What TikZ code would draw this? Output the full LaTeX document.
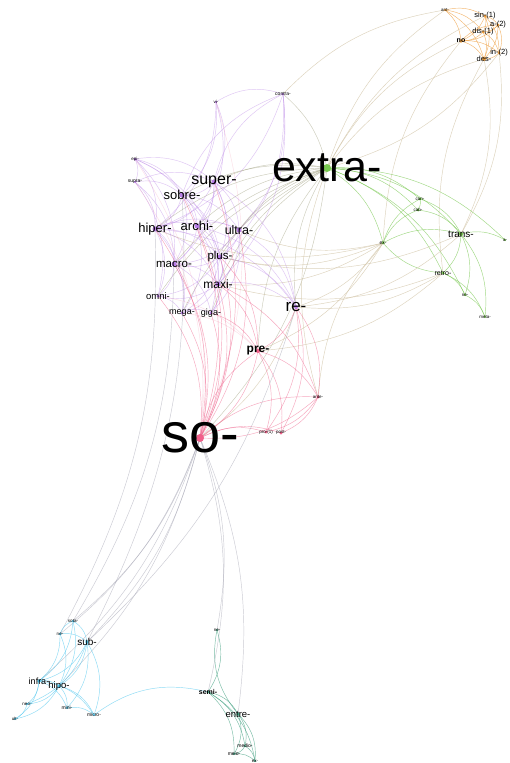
\documentclass[tikz,border=0pt]{standalone}
\usepackage{fontspec}
\setmainfont{Liberation Sans}
\usetikzlibrary{backgrounds}
\definecolor{cOr}{HTML}{F0A040}
\definecolor{cPu}{HTML}{B77EE6}
\definecolor{cGr}{HTML}{78C850}
\definecolor{cPk}{HTML}{F0608A}
\definecolor{cBl}{HTML}{4FC8F0}
\definecolor{cTl}{HTML}{40A080}
\definecolor{cOl}{HTML}{8E8E66}
\definecolor{cTn}{HTML}{CFC0A0}
\definecolor{cGy}{HTML}{A0A0B0}
\definecolor{cTx}{HTML}{000000}
\newcommand{\gnode}[7]{%
  \fill[#5] (#2,#3) circle (#6pt);
  \node[text=cTx,inner sep=0pt,font=\fontsize{#4}{#4}\selectfont] (#1) at (#2,#3) {#7};}
\tikzset{
  eb/.style={line width=0.45pt},
  oE/.style={eb,draw=cOr,opacity=0.75},
  gE/.style={eb,draw=cGr,opacity=0.7},
  xE/.style={eb,draw=cOl,opacity=0.45},
  tE/.style={eb,draw=cTn,opacity=0.7},
  pE/.style={eb,draw=cPu,opacity=0.45},
  rE/.style={eb,draw=cPk,opacity=0.55},
  lE/.style={eb,draw=cPk,opacity=0.2},
  sE/.style={eb,draw=cGy,opacity=0.55},
  bE/.style={eb,draw=cBl,opacity=0.65},
  kE/.style={eb,draw=cTl,opacity=0.7},
}
\begin{document}
\begin{tikzpicture}[x=1pt,y=-1pt]
\useasboundingbox (0,0) rectangle (509,763);
% orange cluster
\gnode{ant}{445}{10}{4.5}{cOr}{1.2}{ant-}
\gnode{sin}{485}{16}{7.5}{cOr}{1.5}{sin-(1)}
\gnode{aa}{498}{25}{7.5}{cOr}{1.5}{a-(2)}
\gnode{dis}{483}{32}{7.5}{cOr}{1.5}{dis-(1)}
\gnode{no}{461}{41}{7}{cOr}{1.8}{\textbf{no}}
\gnode{in}{499}{53}{7.5}{cOr}{1.5}{in-(2)}
\gnode{des}{484}{59}{7.5}{cOr}{2}{des-}
% purple cluster
\gnode{contra}{283}{94}{5}{cPu}{1.2}{contra-}
\gnode{vi}{216}{102}{4.5}{cPu}{1.2}{vi-}
\gnode{epi}{135}{159}{4.5}{cPu}{1.5}{epi-}
\gnode{supra}{135}{182}{5}{cPu}{1.2}{supra-}
\gnode{super}{214}{182}{16}{cPu}{2.5}{super-}
\gnode{sobre}{182}{195}{13}{cPu}{2.5}{sobre-}
\gnode{hiper}{155}{229}{13}{cPu}{2.5}{hiper-}
\gnode{archi}{197}{226}{13}{cPu}{2.5}{archi-}
\gnode{ultra}{239}{230}{12.5}{cPu}{2.5}{ultra-}
\gnode{plus}{220}{257}{11.5}{cPu}{2.5}{plus-}
\gnode{macro}{174}{264}{11.5}{cPu}{2.5}{macro-}
\gnode{maxi}{218}{284}{12}{cPu}{2.5}{maxi-}
\gnode{omni}{158}{296}{9.5}{cPu}{1.5}{omni-}
\gnode{mega}{182}{313}{9}{cPu}{1.5}{mega-}
\gnode{giga}{211}{313}{9}{cPu}{1.5}{giga-}
\gnode{re}{296}{307}{17}{cPu}{2}{re-}
% big ones
\gnode{extra}{327}{168}{43}{cGr}{4}{extra-}
\gnode{so}{200}{438}{56}{cPk}{4}{so-}
\gnode{pre}{258}{351}{12}{cPk}{2}{\textbf{pre-}}
\gnode{ante}{318}{397}{4.5}{cPk}{1.5}{ante-}
\gnode{pro}{266}{432}{4.5}{cPk}{1.5}{pro-(1)}
\gnode{post}{281}{433}{4.5}{cPk}{1.5}{post-}
% green cluster
\gnode{con}{420}{199}{4.5}{cGr}{1.5}{con-}
\gnode{co}{418}{210}{4.5}{cGr}{1.5}{cab-}
\gnode{ex}{383}{243}{5}{cGr}{1.5}{ex-}
\gnode{trans}{461}{234}{10}{cGr}{2}{trans-}
\gnode{retro}{443}{273}{7}{cGr}{1.5}{retro-}
\gnode{ne}{465}{295}{4.5}{cGr}{1.2}{ne-}
\gnode{meta}{485}{317}{4.5}{cGr}{1.2}{meta-}
\gnode{edg}{505}{240}{4.5}{cGr}{1.2}{a-}
% blue cluster
\gnode{sota}{73}{621}{4.5}{cBl}{1.2}{sota-}
\gnode{neb}{60}{634}{4.5}{cBl}{1.2}{ne-}
\gnode{sub}{87}{642}{10}{cBl}{1.8}{sub-}
\gnode{infra}{39}{681}{9}{cBl}{1.8}{infra-}
\gnode{hipo}{59}{686}{9.5}{cBl}{1.8}{hipo-}
\gnode{neo}{27}{704}{4.5}{cBl}{1.2}{neo-}
\gnode{ult}{15}{719}{4.5}{cBl}{1.2}{ult-}
\gnode{mini}{67}{708}{5}{cBl}{1.2}{mini-}
\gnode{micro}{94}{715}{5}{cBl}{1.2}{micro-}
% teal cluster
\gnode{net}{217}{630}{4.5}{cTl}{1.2}{ne-}
\gnode{semi}{208}{692}{7}{cTl}{1.5}{\textbf{semi-}}
\gnode{entre}{238}{714}{9.5}{cTl}{1.8}{entre-}
\gnode{medio}{245}{746}{5}{cTl}{1.2}{medio-}
\gnode{meio}{234}{754}{5}{cTl}{1.2}{meio-}
\gnode{ext}{255}{761}{4.5}{cTl}{1.2}{ex-}
\begin{pgfonlayer}{background}
\fill[white] (0,0) rectangle (509,763);
\foreach \a/\b in {sin/aa,sin/dis,sin/no,sin/in,sin/des,aa/dis,aa/no,aa/in,aa/des,dis/no,dis/in,dis/des,no/in,no/des,in/des,ant/sin,ant/no,ant/des,ant/dis,no/aa}
  \draw[oE] (\a.center) to[bend left=22] (\b.center);
\foreach \a/\b in {extra/no,extra/des,extra/ant,in/extra,extra/sin,contra/ant,des/trans,in/trans,ex/no,retro/des}
  \draw[tE] (\a.center) to[bend left=18] (\b.center);
\foreach \a/\b in {extra/con,extra/co,extra/ex,extra/trans,extra/retro,extra/edg,con/co,ex/con,ex/co,con/trans,co/trans,trans/retro,trans/ne,trans/meta,retro/ne,retro/meta,ne/meta,trans/edg,ex/trans,retro/ex,extra/ne}
  \draw[gE] (\a.center) to[bend left=22] (\b.center);
\foreach \a/\b in {super/extra,sobre/extra,hiper/extra,archi/extra,ultra/extra,plus/extra,maxi/extra,macro/extra,re/extra,pre/extra,contra/extra,omni/extra,mega/extra,giga/extra,extra/so}
  \draw[xE] (\a.center) to[bend left=18] (\b.center);
\foreach \a/\b in {ex/re,ex/plus,ex/ultra,ex/maxi,ex/pre,retro/re,trans/re,retro/maxi,ante/ex,ante/extra,re/so,retro/pre,trans/plus,ex/hiper}
  \draw[tE] (\a.center) to[bend left=18] (\b.center);
\foreach \a/\b in {super/sobre,super/hiper,super/archi,super/ultra,super/plus,super/macro,super/maxi,epi/super,supra/super,vi/super,super/contra,sobre/hiper,sobre/archi,sobre/ultra,sobre/plus,sobre/macro,sobre/maxi,epi/sobre,supra/sobre,vi/sobre,sobre/contra,hiper/archi,hiper/ultra,hiper/plus,hiper/macro,hiper/maxi,hiper/omni,hiper/mega,epi/hiper,supra/hiper,archi/ultra,archi/plus,archi/macro,archi/maxi,archi/mega,archi/giga,ultra/plus,ultra/maxi,ultra/macro,ultra/giga,plus/macro,plus/maxi,plus/mega,plus/giga,plus/omni,macro/maxi,macro/omni,macro/mega,macro/giga,maxi/mega,maxi/giga,maxi/omni,omni/mega,mega/giga,epi/supra,epi/macro,epi/plus,supra/macro,vi/contra,contra/hiper,contra/ultra,contra/plus,vi/hiper,vi/archi,super/re,ultra/re,plus/re,maxi/re,archi/re,hiper/re,epi/archi,supra/omni,contra/maxi}
  \draw[pE] (\a.center) to[bend left=25] (\b.center);
\foreach \a/\b in {so/pre,so/ante,so/pro,so/post,pre/ante,pre/pro,pre/post,ante/pro,ante/post,maxi/so,mega/so,giga/so,omni/so,macro/so,hiper/so,plus/so,archi/so,ultra/so,super/so,sobre/so,re/pre,re/ante,re/pro,maxi/pre,giga/pre,maxi/ante,plus/pre,re/post,pre/so,ante/so}
  \draw[rE] (\a.center) to[bend left=22] (\b.center);
\foreach \a/\b in {epi/so,supra/so,vi/so,omni/pre,mega/pre}
  \draw[lE] (\a.center) to[bend left=20] (\b.center);
\foreach \a/\b in {so/sub,so/sota,so/neb,so/infra,so/hipo,so/semi,so/entre,so/net,sobre/sub,hiper/neb,macro/sota,re/sub}
  \draw[sE] (\a.center) to[bend left=15] (\b.center);
\foreach \a/\b in {sota/sub,neb/sota,neb/sub,sub/infra,sub/hipo,sub/mini,sub/micro,sub/neo,infra/hipo,infra/neo,infra/ult,infra/mini,infra/micro,hipo/neo,hipo/ult,hipo/mini,hipo/micro,mini/micro,sota/infra,neb/hipo,micro/semi,neo/ult,neb/infra,sota/hipo}
  \draw[bE] (\a.center) to[bend left=25] (\b.center);
\foreach \a/\b in {net/semi,entre/net,semi/entre,semi/medio,semi/meio,semi/ext,entre/medio,entre/meio,entre/ext,medio/meio,medio/ext,meio/ext}
  \draw[kE] (\a.center) to[bend left=25] (\b.center);
\end{pgfonlayer}
\end{tikzpicture}
\end{document}
